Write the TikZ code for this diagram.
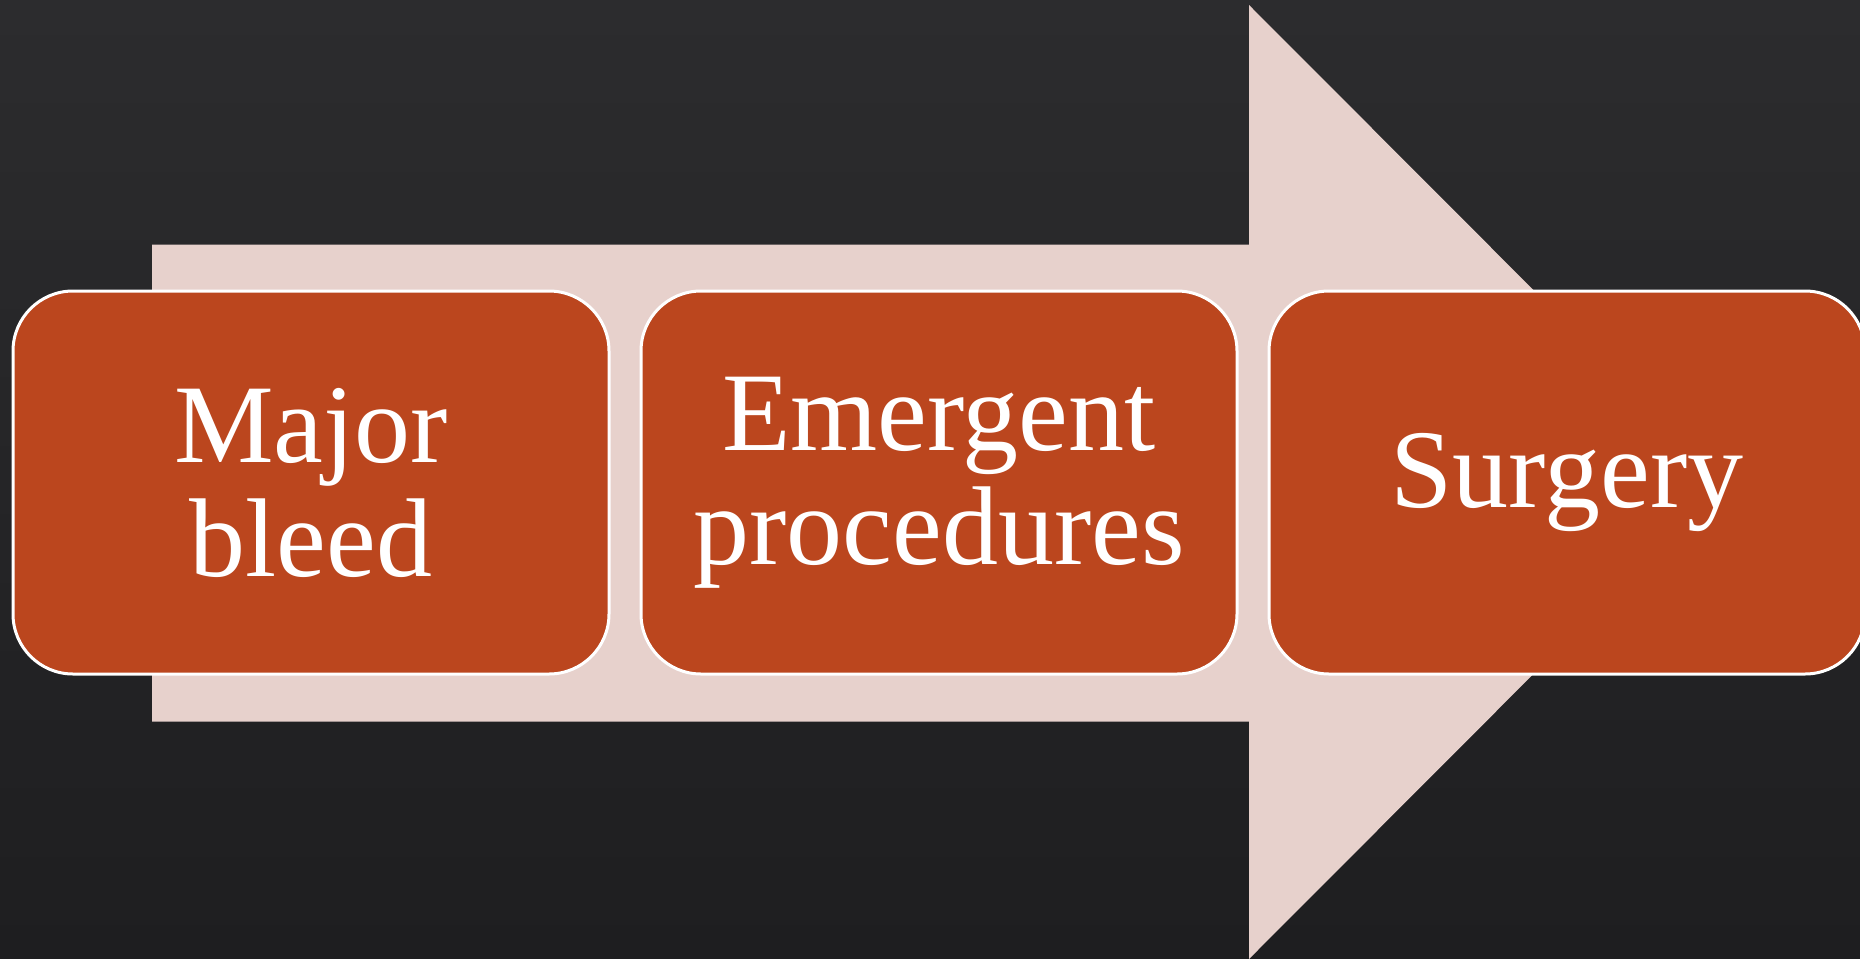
\documentclass[tikz,border=0pt]{standalone}
\usepackage{fontspec}
\setmainfont{Liberation Serif}
\usetikzlibrary{positioning}
\definecolor{bgtop}{HTML}{2C2C2E}
\definecolor{bgbot}{HTML}{1E1E20}
\definecolor{arrowpink}{HTML}{E7D1CC}
\definecolor{rust}{HTML}{BB461E}
\tikzset{box/.style={rectangle,draw=white,line width=1.5pt,fill=rust,rounded corners=30pt,align=center,
  minimum width=298pt,minimum height=191.5pt,text=white,font=\fontsize{56pt}{57pt}\selectfont}}

\begin{document}
\begin{tikzpicture}[x=0.5pt,y=-0.5pt,node distance=14.5pt]
\useasboundingbox (0,0) rectangle (1860,959);
\clip (0,0) rectangle (1860,959);
\shade[top color=bgtop,bottom color=bgbot] (0,0) rectangle (1860,959);
% big arrow behind the steps
\fill[arrowpink] (152,244.5) -- (1249,244.5) -- (1249,5) -- (1725,482) -- (1249,959)
  -- (1249,721.5) -- (152,721.5) -- cycle;
\node[box] (bleed) at (311,482.5) {Major\\bleed};
\node[box, right=of bleed] (proc) {Emergent\\procedures};
\node[box, right=of proc] (surg) {Surgery};
\end{tikzpicture}
\end{document}
